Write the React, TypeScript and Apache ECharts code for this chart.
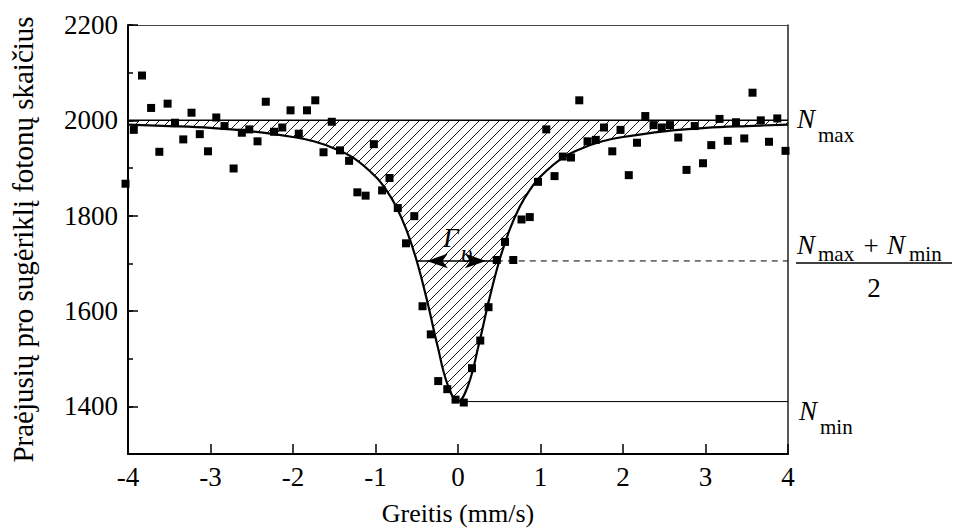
import React, { useEffect, useRef } from 'react';
import * as echarts from 'echarts';

// ---- data ----
const xTickValues = [-4, -3, -2, -1, 0, 1, 2, 3, 4];
const yTickValues = [1400, 1600, 1800, 2000, 2200];
const xRange = [-4, 4];
const yRange = [1300, 2200];

const scatterX = [
  -4.03, -3.93, -3.83, -3.72, -3.62, -3.52, -3.43, -3.33, -3.23, -3.13,
  -3.03, -2.93, -2.83, -2.72, -2.62, -2.53, -2.43, -2.33, -2.23, -2.13,
  -2.03, -1.93, -1.83, -1.73, -1.63, -1.53, -1.43, -1.32, -1.22, -1.12,
  -1.02, -0.92, -0.83, -0.73, -0.63, -0.53, -0.43, -0.33, -0.24, -0.13,
  -0.03, 0.07, 0.17, 0.27, 0.37, 0.47, 0.57, 0.67, 0.77, 0.87,
  0.97, 1.07, 1.17, 1.27, 1.37, 1.47, 1.57, 1.67, 1.77, 1.87,
  1.97, 2.07, 2.17, 2.27, 2.37, 2.47, 2.57, 2.67, 2.77, 2.87,
  2.97, 3.07, 3.17, 3.27, 3.37, 3.47, 3.57, 3.67, 3.77, 3.87, 3.97,
];
const scatterY = [
  1867, 1980, 2094, 2026, 1934, 2035, 1995, 1960, 2016, 1971,
  1935, 2006, 1988, 1899, 1974, 1981, 1956, 2039, 1976, 1985,
  2021, 1972, 2021, 2042, 1933, 1997, 1937, 1915, 1849, 1842,
  1950, 1853, 1879, 1816, 1742, 1799, 1610, 1551, 1453, 1436,
  1414, 1408, 1480, 1538, 1608, 1707, 1745, 1707, 1792, 1797,
  1871, 1981, 1883, 1924, 1922, 2042, 1956, 1959, 1985, 1935,
  1980, 1885, 1953, 2009, 1990, 1985, 1990, 1964, 1896, 1988,
  1910, 1948, 2003, 1957, 1996, 1962, 2058, 2000, 1955, 2004, 1936,
];

const curveX = [
  -4, -3.5, -3, -2.5, -2, -1.75, -1.5, -1.25, -1, -0.875, -0.75, -0.625, -0.5,
  -0.375, -0.25, -0.125, 0, 0.125, 0.25, 0.375, 0.5, 0.625, 0.75, 0.875, 1,
  1.25, 1.5, 1.75, 2, 2.5, 3, 3.5, 4,
];
const curveY = [
  1991, 1988, 1984, 1977, 1965, 1956, 1941, 1919, 1882, 1855, 1819, 1770, 1705,
  1622, 1528, 1445, 1410, 1445, 1528, 1622, 1705, 1770, 1819, 1855, 1882,
  1919, 1941, 1956, 1965, 1977, 1984, 1988, 1991,
];

const nMax = 2000;
const nMin = 1410;
const nHalf = 1705;
const nMinStartX = 0.07;
const halfDashStartX = 0.47;
const fwhmX = [-0.5, 0.46];

const xAxisName = 'Greitis (mm/s)';
const yAxisName = 'Praėjusių pro sugėriklį fotonų skaičius';

const serif = '"Liberation Serif", "Times New Roman", serif';

const hatchSvg =
  "<svg xmlns='http://www.w3.org/2000/svg' width='10' height='10'>" +
  "<path d='M-1,1 L1,-1 M0,10 L10,0 M9,11 L11,9' stroke='black' stroke-width='0.9'/></svg>";
const hatchUrl = 'data:image/svg+xml;charset=utf-8,' + encodeURIComponent(hatchSvg);

function txt(text: string, x: number, y: number, size: number, italic: boolean, align: string = 'left') {
  return {
    type: 'text',
    x,
    y,
    silent: true,
    style: {
      text,
      font: `${italic ? 'italic ' : ''}${size}px ${serif}`,
      fill: '#000',
      textAlign: align,
      textVerticalAlign: 'middle',
      verticalAlign: 'middle',
    },
  };
}

export default function App() {
  const ref = useRef<HTMLDivElement>(null);

  useEffect(() => {
    document.body.style.margin = '0';
    if (!ref.current) return;
    const chart = echarts.init(ref.current, null, { renderer: 'svg' });

    const labelStyle = {
      color: '#000',
      fontSize: 27,
      fontFamily: serif,
      formatter: (v: number) => String(v),
    };

    const option: any = {
      animation: false,
      backgroundColor: '#fff',
      grid: { left: 125, right: 175, top: 25, bottom: 75, containLabel: false },
      xAxis: [
        {
          type: 'value',
          min: xRange[0],
          max: xRange[1],
          interval: 1,
          position: 'bottom',
          axisLine: { show: true, onZero: false, lineStyle: { color: '#000', width: 2 } },
          axisTick: { show: true, inside: true, length: 10, lineStyle: { color: '#000', width: 1.5 } },
          axisLabel: { ...labelStyle, margin: 9, customValues: xTickValues },
          splitLine: { show: false },
          name: xAxisName,
          nameLocation: 'middle',
          nameGap: 46,
          nameTextStyle: { color: '#000', fontSize: 26, fontFamily: serif },
        },
        {
          type: 'value',
          min: xRange[0],
          max: xRange[1],
          position: 'top',
          axisLine: { show: true, onZero: false, lineStyle: { color: '#444', width: 1 } },
          axisTick: { show: false },
          axisLabel: { show: false },
          splitLine: { show: false },
        },
      ],
      yAxis: [
        {
          type: 'value',
          min: yRange[0],
          max: yRange[1],
          position: 'left',
          axisLine: { show: true, onZero: false, lineStyle: { color: '#000', width: 2 } },
          axisTick: {
            show: true,
            inside: true,
            length: 10,
            customValues: yTickValues,
            lineStyle: { color: '#000', width: 1.5 },
          },
          axisLabel: { ...labelStyle, margin: 10, customValues: yTickValues },
          splitLine: { show: false },
          name: yAxisName,
          nameLocation: 'middle',
          nameRotate: 90,
          nameGap: 91,
          nameTextStyle: { color: '#000', fontSize: 29, fontFamily: serif },
        },
        {
          type: 'value',
          min: yRange[0],
          max: yRange[1],
          interval: 100,
          position: 'left',
          axisLine: { show: false, onZero: false },
          axisTick: { show: true, inside: true, length: 5, lineStyle: { color: '#000', width: 1.5 } },
          axisLabel: { show: false },
          splitLine: { show: false },
        },
        {
          type: 'value',
          min: yRange[0],
          max: yRange[1],
          position: 'right',
          axisLine: { show: true, onZero: false, lineStyle: { color: '#222', width: 1.5 } },
          axisTick: { show: false },
          axisLabel: { show: false },
          splitLine: { show: false },
        },
      ],
      series: [
        {
          type: 'line',
          name: 'fit',
          silent: true,
          data: curveX.map((x, i) => [x, curveY[i]]),
          smooth: 0.4,
          symbol: 'none',
          lineStyle: { color: '#000', width: 2.2 },
          areaStyle: {
            origin: nMax,
            opacity: 1,
            color: { image: hatchUrl, repeat: 'repeat', imageWidth: 10, imageHeight: 10 },
          },
          z: 3,
        },
        {
          type: 'line',
          name: 'Nmax',
          silent: true,
          data: [
            [xRange[0], nMax],
            [xRange[1], nMax],
          ],
          symbol: 'none',
          lineStyle: { color: '#000', width: 1.5 },
          z: 2,
        },
        {
          type: 'line',
          name: 'Nmin',
          silent: true,
          data: [
            [nMinStartX, nMin],
            [xRange[1], nMin],
          ],
          symbol: 'none',
          lineStyle: { color: '#000', width: 1 },
          z: 2,
        },
        {
          type: 'line',
          name: 'half',
          silent: true,
          data: [
            [halfDashStartX, nHalf],
            [xRange[1], nHalf],
          ],
          symbol: 'none',
          lineStyle: { color: '#000', width: 1, type: [6, 5] },
          z: 2,
        },
        {
          type: 'line',
          name: 'fwhm',
          silent: true,
          data: [
            { value: [fwhmX[0], nHalf], symbolRotate: 90, symbolOffset: [10, 0] },
            { value: [fwhmX[1], nHalf], symbolRotate: -90, symbolOffset: [-10, 0] },
          ],
          symbol: 'arrow',
          symbolSize: [11, 21],
          showSymbol: true,
          itemStyle: { color: '#000', opacity: 1 },
          lineStyle: { color: '#000', width: 1.5 },
          z: 4,
        },
        {
          type: 'scatter',
          name: 'data',
          silent: true,
          clip: false,
          data: scatterX.map((x, i) => [x, scatterY[i]]),
          symbol: 'rect',
          symbolSize: 8,
          itemStyle: { color: '#000', opacity: 1 },
          z: 5,
        },
      ],
      graphic: [
        txt('N', 797, 119, 27, true),
        txt('max', 818, 135, 21, false),
        txt('N', 797, 245, 27, true),
        txt('max', 818, 254, 21, false),
        txt('+', 871, 246, 27, false, 'center'),
        txt('N', 887, 245, 27, true),
        txt('min', 909, 254, 21, false),
        {
          type: 'line',
          silent: true,
          shape: { x1: 796, y1: 263, x2: 952, y2: 263 },
          style: { stroke: '#000', lineWidth: 1.5 },
        },
        txt('2', 874, 288, 27, false, 'center'),
        txt('N', 799, 411, 27, true),
        txt('min', 820, 427, 21, false),
        txt('Γ', 443, 238, 27, true),
        txt('υ', 461, 253, 25, true),
      ],
    };

    chart.setOption(option);
    return () => {
      chart.dispose();
    };
  }, []);

  return (
    <div
      ref={ref}
      style={{ position: 'absolute', left: 0, top: 0, width: 963, height: 531 }}
    />
  );
}
